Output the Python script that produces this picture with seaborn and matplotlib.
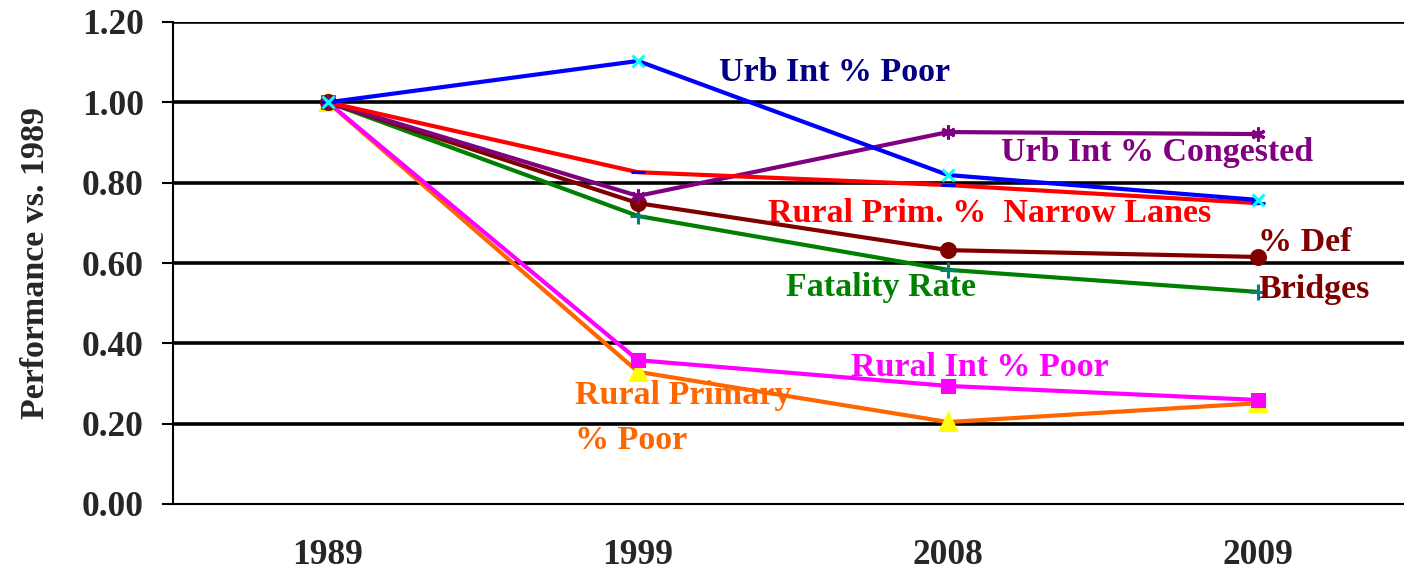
import matplotlib
matplotlib.use("Agg")
import matplotlib.pyplot as plt
import numpy as np
import pandas as pd
import seaborn as sns

# Data
years = ["1989", "1999", "2008", "2009"]
urb_int_poor = [1.00, 1.103, 0.819, 0.757]
urb_int_congested = [1.00, 0.767, 0.926, 0.921]
rural_prim_narrow = [1.00, 0.826, 0.794, 0.749]
def_bridges = [1.00, 0.749, 0.632, 0.615]
fatality_rate = [1.00, 0.717, 0.583, 0.528]
rural_int_poor = [1.00, 0.358, 0.294, 0.259]
rural_primary_poor = [1.00, 0.329, 0.204, 0.251]

yticks = [0.0, 0.2, 0.4, 0.6, 0.8, 1.0, 1.2]

# (values, line colour, marker, marker face, marker edge, marker size)
series = [
    (rural_primary_poor, "#FF6600", "^", "#FFFF00", "#FFFF00", 12),
    (rural_int_poor, "#FF00FF", "s", "#FF00FF", "#FF00FF", 9),
    (fatality_rate, "#008000", "+", "none", "#008080", 11),
    (def_bridges, "#800000", "o", "#800000", "#800000", 10),
    (urb_int_congested, "#800080", (6, 2, 0), "#800080", "#800080", 10),
    (rural_prim_narrow, "#FF0000", "_", "#0000FF", "#0000FF", 10),
    (urb_int_poor, "#0000FF", "x", "#00FFFF", "#00FFFF", 8),
]

# Inline labels: (text, x, y, colour) in data units
labels = [
    ("Urb Int % Poor", 1.26, 1.075, "#000080"),
    ("Urb Int % Congested", 2.17, 0.874, "#800080"),
    ("Rural Prim. %  Narrow Lanes", 1.42, 0.722, "#FF0000"),
    ("% Def", 3.0, 0.650, "#800000"),
    ("Bridges", 3.0, 0.533, "#800000"),
    ("Fatality Rate", 1.478, 0.538, "#008000"),
    ("Rural Int % Poor", 1.687, 0.339, "#FF00FF"),
    ("Rural Primary", 0.797, 0.270, "#FF6600"),
    ("% Poor", 0.797, 0.159, "#FF6600"),
]

sns.set_style("white")
plt.rcParams["font.family"] = ["Liberation Serif", "DejaVu Serif"]
plt.rcParams["font.weight"] = "bold"

fig = plt.figure(figsize=(14.04, 5.72), dpi=100)
ax = fig.add_axes([173 / 1404, 68 / 572, 1240 / 1404, 482 / 572])

xpos = np.arange(len(years))
for vals, color, marker, mfc, mec, ms in series:
    df = pd.DataFrame({"x": xpos, "y": vals})
    sns.lineplot(data=df, x="x", y="y", ax=ax, color=color, linewidth=3,
                 marker=marker, markersize=ms, markerfacecolor=mfc,
                 markeredgecolor=mec, markeredgewidth=2.2, zorder=3)

for text, x, y, color in labels:
    ax.text(x, y, text, color=color, fontsize=24.5, fontweight="bold",
            ha="left", va="center", zorder=4)

ax.set_xlim(-0.5, 3.5)
ax.set_ylim(0, 1.2)
ax.set_yticks(yticks)
ax.set_yticklabels([f"{v:.2f}" for v in yticks])
ax.set_xticks(xpos)
ax.set_xticklabels(years)
ax.set_xticks(np.arange(-0.5, 4.0, 1.0), minor=True)
ax.tick_params(axis="x", which="major", length=0, pad=25, labelsize=25.5)
ax.tick_params(axis="x", which="minor", length=8, width=1.5, color="black",
               direction="out")
ax.tick_params(axis="y", length=8, width=1.5, color="black", pad=13,
               labelsize=25.5, left=True)
for v in yticks[1:]:
    ax.axhline(v, color="black", linewidth=2.6, zorder=1)

ax.set_xlabel("")
ax.set_ylabel("Performance vs. 1989", fontsize=24.5, fontweight="bold", labelpad=22)
for side in ["top", "right"]:
    ax.spines[side].set_visible(False)
for side in ["left", "bottom"]:
    ax.spines[side].set_color("black")
    ax.spines[side].set_linewidth(1.5)

fig.savefig("out.png", dpi=100)
